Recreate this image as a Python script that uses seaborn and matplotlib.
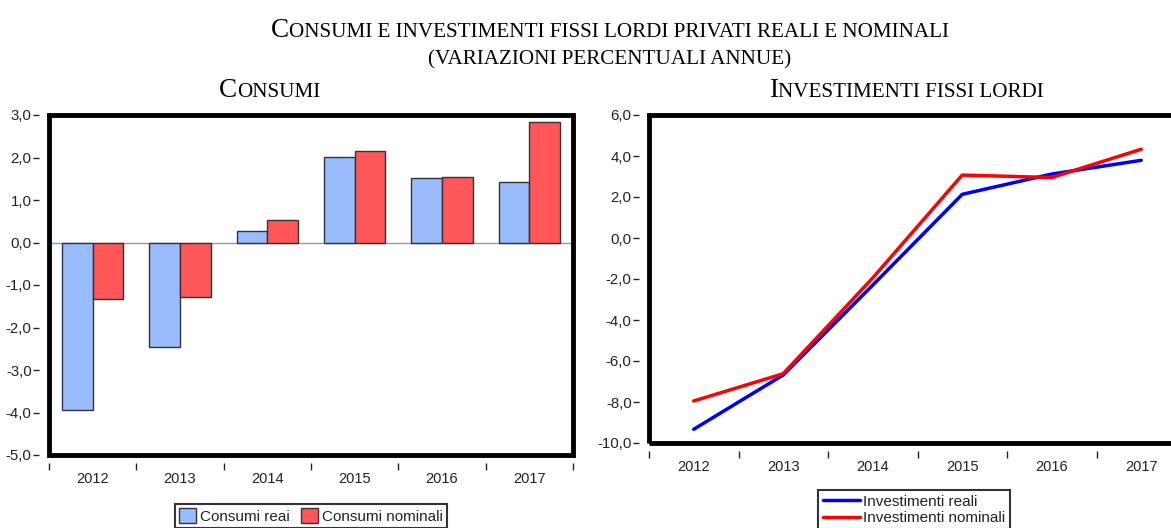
import matplotlib
matplotlib.use("Agg")
import matplotlib.pyplot as plt
import seaborn as sns
import pandas as pd
from matplotlib.patches import Rectangle
from matplotlib.ticker import FuncFormatter, FixedLocator

# ---------------- data ----------------
years = ["2012", "2013", "2014", "2015", "2016", "2017"]
consumi_reali = [-3.95, -2.45, 0.26, 2.02, 1.52, 1.42]
consumi_nominali = [-1.32, -1.28, 0.52, 2.15, 1.55, 2.83]
invest_reali = [-9.33, -6.68, -2.30, 2.13, 3.12, 3.79]
invest_nominali = [-7.95, -6.62, -1.95, 3.07, 2.95, 4.33]
cons_labels = ["Consumi reai", "Consumi nominali"]
inv_labels = ["Investimenti reali", "Investimenti nominali"]
cons_yticks = [3, 2, 1, 0, -1, -2, -3, -4, -5]
inv_yticks = [6, 4, 2, 0, -2, -4, -6, -8, -10]

df_c = pd.DataFrame({
    "anno": years * 2,
    "valore": consumi_reali + consumi_nominali,
    "serie": [cons_labels[0]] * 6 + [cons_labels[1]] * 6,
})
df_i = pd.DataFrame({
    "pos": list(range(6)) * 2,
    "valore": invest_reali + invest_nominali,
    "serie": [inv_labels[0]] * 6 + [inv_labels[1]] * 6,
})

sns.set_theme(style="white")
plt.rcParams["font.family"] = ["Liberation Sans", "DejaVu Sans"]

W, H = 1171, 528
fig = plt.figure(figsize=(W / 100, H / 100), dpi=100)

def fbox(x0, y_top, x1, y_bot):
    return [x0 / W, 1 - y_bot / H, (x1 - x0) / W, (y_bot - y_top) / H]

ax1 = fig.add_axes(fbox(49, 115, 573, 455))
ax2 = fig.add_axes(fbox(649, 115, 1186, 443))

comma = FuncFormatter(lambda v, p: f"{v:.1f}".replace(".", ","))

# ---------------- left: bars ----------------
sns.barplot(data=df_c, x="anno", y="valore", hue="serie",
            palette=["#99BBFF", "#FF5757"], saturation=1, edgecolor="#333333",
            linewidth=1.0, width=0.70, ax=ax1, legend=True)
ax1.axhline(0, color="#999999", lw=1.0, zorder=0.5)
ax1.set_xlim(-0.5, 5.5)
ax1.set_ylim(-5, 3)

# ---------------- right: lines ----------------
sns.lineplot(data=df_i, x="pos", y="valore", hue="serie",
             palette=["#0000FF", "#FF0000"], linewidth=2.5, ax=ax2, legend=True)
ax2.set_xlim(-0.5, 5.5)
ax2.set_ylim(-10, 6)

for ax, yt in ((ax1, cons_yticks), (ax2, inv_yticks)):
    ax.set_xlabel("")
    ax.set_ylabel("")
    ax.yaxis.set_major_locator(FixedLocator(yt))
    ax.yaxis.set_major_formatter(comma)
    ax.set_xticks(range(6))
    ax.set_xticklabels(years)
    ax.set_xticks([k - 0.5 for k in range(7)], minor=True)
    ax.tick_params(axis="x", which="major", length=0, pad=6, labelsize=10.5,
                   labelcolor="#222222")
    ax.tick_params(axis="x", which="minor", length=5, width=1, color="#222222",
                   direction="out", bottom=True)
    ax.tick_params(axis="y", which="major", length=4, width=1, color="#222222",
                   direction="out", left=True, pad=1.5, labelsize=10.8,
                   labelcolor="#222222")
    for s in ax.spines.values():
        s.set_visible(False)
    ax.spines["bottom"].set_position(("outward", 6))
    ax.spines["left"].set_position(("outward", 7))
    ax.add_patch(Rectangle((0, 0), 1, 1, transform=ax.transAxes, fill=False,
                           edgecolor="black", lw=3.5, clip_on=False, zorder=10))

# legends
h1, l1 = ax1.get_legend_handles_labels()
ax1.get_legend().remove()
leg1 = fig.legend(h1, l1, loc="center", bbox_to_anchor=(311 / W, 1 - 516 / H),
                  ncol=2, frameon=True, fancybox=False, fontsize=11,
                  handlelength=1.1, handleheight=1.1, handletextpad=0.3,
                  columnspacing=0.7, borderpad=0.25, borderaxespad=0)
leg1.get_frame().set_edgecolor("black")
leg1.get_frame().set_linewidth(1.5)
for t in leg1.get_texts():
    t.set_color("#222222")

h2, l2 = ax2.get_legend_handles_labels()
ax2.get_legend().remove()
leg2 = fig.legend(h2, l2, loc="upper center", bbox_to_anchor=(914 / W, 1 - 490 / H),
                  ncol=1, frameon=True, fancybox=False, fontsize=11,
                  handlelength=2.4, handletextpad=0.2, labelspacing=0.15,
                  borderpad=0.3, borderaxespad=0)
leg2.get_frame().set_edgecolor("black")
leg2.get_frame().set_linewidth(1.5)
for t in leg2.get_texts():
    t.set_color("#222222")

# ---------------- small-caps titles ----------------
renderer = fig.canvas.get_renderer()
SERIF = ["Liberation Serif", "DejaVu Serif"]

def small_caps(text, cx, cy, big=19.5, small=15.2, first_big=True):
    parts = []
    if first_big:
        parts.append((text[0], big))
        parts.append((text[1:], small))
    else:
        parts.append((text, small))
    objs = []
    for s, size in parts:
        t = fig.text(0, cy / H, s, fontsize=size, family=SERIF, color="black",
                     va="baseline", ha="left")
        objs.append(t)
    widths = [o.get_window_extent(renderer).width for o in objs]
    x = cx - sum(widths) / 2
    for o, w in zip(objs, widths):
        o.set_x(x / W)
        x += w

small_caps("CONSUMI E INVESTIMENTI FISSI LORDI PRIVATI REALI E NOMINALI", 610, H - 37)
small_caps("(VARIAZIONI PERCENTUALI ANNUE)", 610, H - 64, first_big=False)
small_caps("CONSUMI", 270, H - 97)
small_caps("INVESTIMENTI FISSI LORDI", 906, H - 97)

fig.savefig("out.png", dpi=100)
